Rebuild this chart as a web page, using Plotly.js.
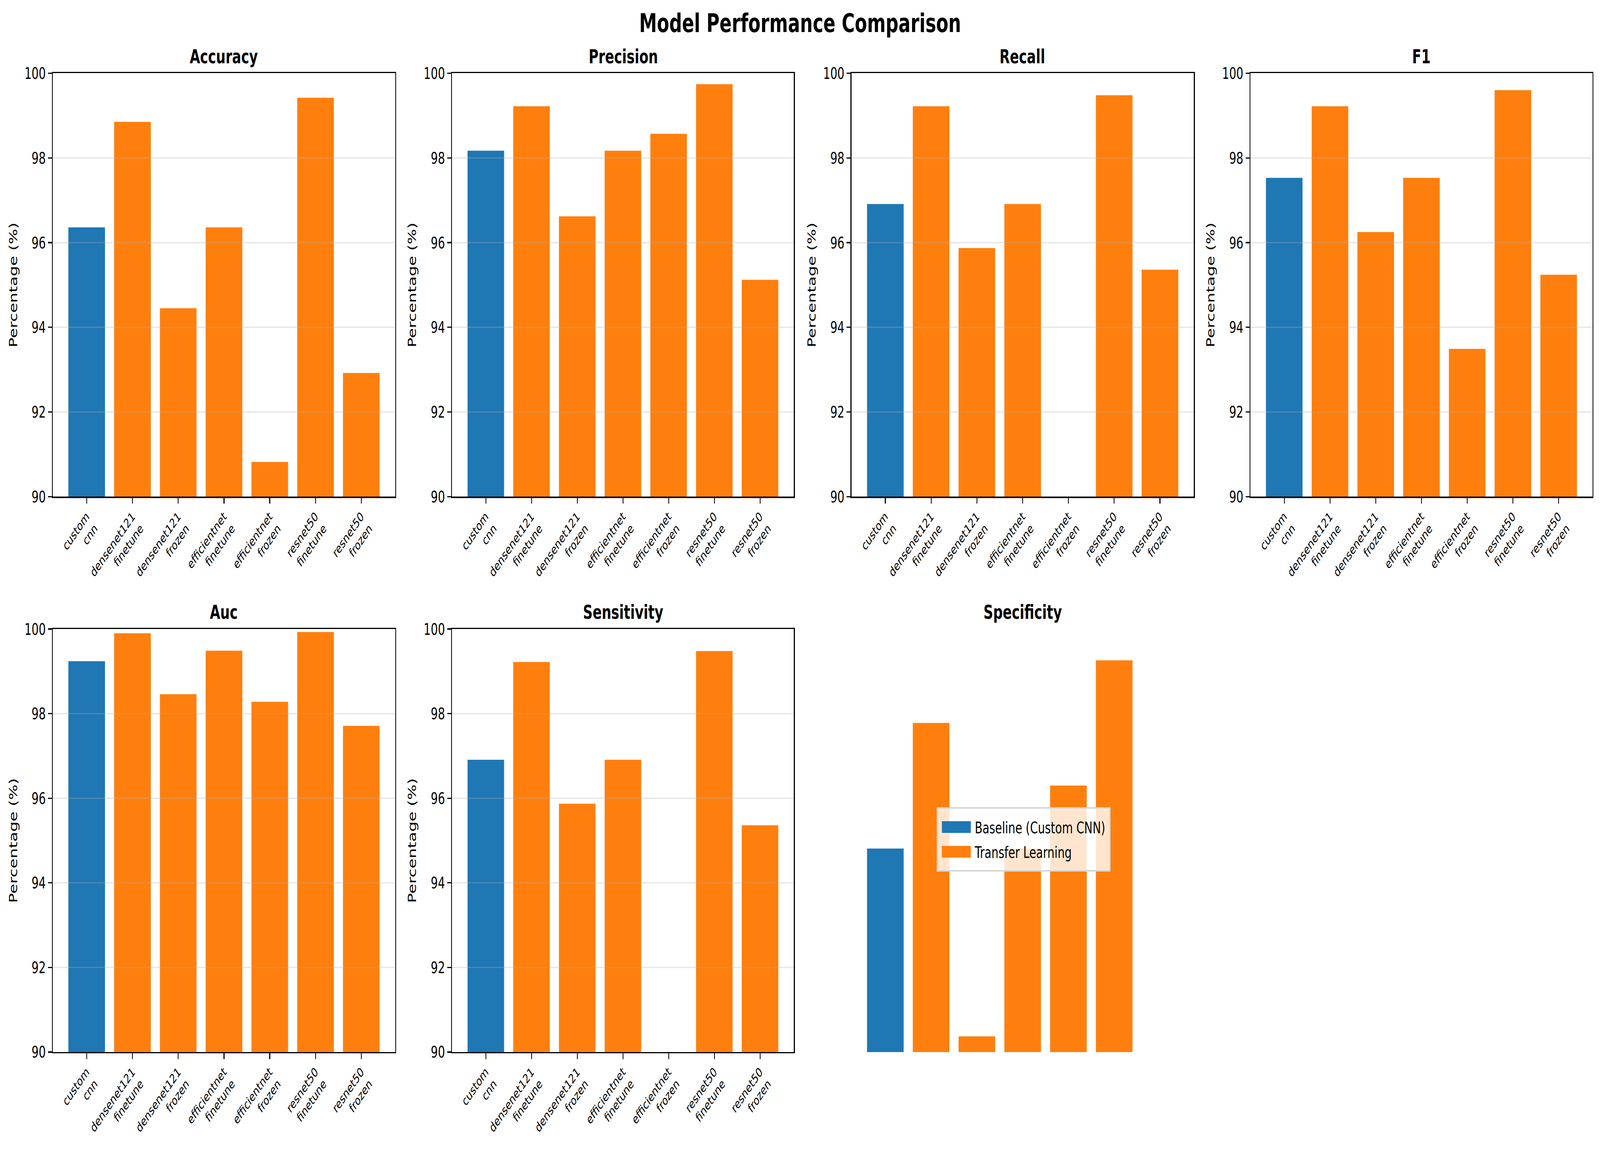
<!DOCTYPE html>
<html><head><meta charset="utf-8">
<script src="https://cdn.plot.ly/plotly-3.0.1.min.js"></script>
<style>
html,body{margin:0;padding:0;background:#fff;overflow:hidden;}
#wrap{position:absolute;left:0;top:0;transform-origin:0 0;}
</style></head>
<body><div id="wrap"><div id="chart"></div></div>
<script>
// ---------------- data ----------------
const models = ['custom<br>cnn', 'densenet121<br>finetune', 'densenet121<br>frozen',
  'efficientnet<br>finetune', 'efficientnet<br>frozen', 'resnet50<br>finetune', 'resnet50<br>frozen'];
const modelGroup = ['Baseline (Custom CNN)', 'Transfer Learning', 'Transfer Learning',
  'Transfer Learning', 'Transfer Learning', 'Transfer Learning', 'Transfer Learning'];
const metricTitles = ['Accuracy', 'Precision', 'Recall', 'F1', 'Auc', 'Sensitivity', 'Specificity'];
const accuracy    = [96.36, 98.85, 94.45, 96.36, 90.82, 99.42, 92.92];
const precision   = [98.17, 99.22, 96.62, 98.17, 98.57, 99.74, 95.12];
const recall      = [96.91, 99.22, 95.87, 96.91, 88.90, 99.48, 95.36];
const f1          = [97.53, 99.22, 96.25, 97.53, 93.49, 99.60, 95.24];
const auc         = [99.24, 99.90, 98.46, 99.49, 98.28, 99.93, 97.71];
const sensitivity = [96.91, 99.22, 95.87, 96.91, 88.90, 99.48, 95.36];
const specificity = [94.81, 97.78, 90.37, 94.81, 96.30, 99.26, 86.00];
const yTickVals = [90, 92, 94, 96, 98, 100];
const legendNames = ['Baseline (Custom CNN)', 'Transfer Learning'];

// ---------------- styling / layout ----------------
const groupColor = {'Baseline (Custom CNN)': '#1f77b4', 'Transfer Learning': '#ff7f0e'};
const FULL_W = 5969, FULL_H = 2959, K = 3;      // design at 1/3 of the target size, scaled to the window
const W = FULL_W / K, H = FULL_H / K;
const pt = v => v * 300 / 72 / K;              // matplotlib points -> design px
const FONT = 'DejaVu Sans';
const colPx = [[197, 1474], [1686, 2961], [3176, 4453], [4664, 5940]];
const rowPx = [[187.5, 1271.7], [1610.7, 2693.8]];
const seriesList = [accuracy, precision, recall, f1, auc, sensitivity, specificity];

const vw = document.documentElement.clientWidth || window.innerWidth || FULL_W;
const vh = document.documentElement.clientHeight || window.innerHeight || FULL_H;
const SX = vw / W, SY = vh / H;
const wrap = document.getElementById('wrap');
wrap.style.width = W + 'px'; wrap.style.height = H + 'px';
wrap.style.transform = 'scale(' + SX + ',' + SY + ')';

const data = [];
const layout = {
  width: W, height: H,
  margin: {l: 0, r: 0, t: 0, b: 0, pad: 0},
  paper_bgcolor: '#ffffff', plot_bgcolor: '#ffffff',
  font: {family: FONT, color: '#000000', size: pt(10)},
  showlegend: true, barmode: 'overlay', bargap: 0.2,
  title: {
    text: '<b>Model Performance Comparison</b>',
    font: {family: FONT, size: pt(16), color: '#000000'},
    x: 0.5, xanchor: 'center', xref: 'paper',
    y: 1 - 82 / FULL_H, yref: 'container', yanchor: 'bottom'
  },
  legend: {
    x: 3494 / FULL_W, y: 1 - 2067 / FULL_H, xanchor: 'left', yanchor: 'top',
    bgcolor: 'rgba(255,255,255,0.8)', bordercolor: '#d6d6d6', borderwidth: pt(1),
    font: {family: FONT, size: pt(10), color: '#000000'},
    itemwidth: 36, tracegroupgap: 0
  },
  annotations: [], shapes: []
};

seriesList.forEach((vals, i) => {
  const n = i + 1;
  const r = Math.floor(i / 4), c = i % 4;
  const xa = 'xaxis' + (n === 1 ? '' : n), ya = 'yaxis' + (n === 1 ? '' : n);
  const xr = 'x' + (n === 1 ? '' : n), yr = 'y' + (n === 1 ? '' : n);
  const visible = metricTitles[i] !== 'Specificity';
  const xd = [colPx[c][0] / FULL_W, colPx[c][1] / FULL_W];
  const yd = [1 - rowPx[r][1] / FULL_H, 1 - rowPx[r][0] / FULL_H];
  data.push({
    type: 'bar', x: models, y: vals, xaxis: xr, yaxis: yr,
    marker: {color: modelGroup.map(g => groupColor[g]), line: {width: 0}},
    showlegend: false, hoverinfo: 'skip'
  });
  layout[xa] = {
    domain: xd, anchor: yr, type: 'category', range: [-0.74, 6.74],
    visible: visible, showgrid: false, zeroline: false,
    showline: true, linecolor: '#000000', linewidth: pt(0.8), mirror: true,
    ticks: 'outside', ticklen: pt(3.5), tickwidth: pt(0.8), tickcolor: '#000000',
    tickangle: -45, tickfont: {family: FONT, size: pt(8), color: '#000000'},
    automargin: false, fixedrange: true
  };
  layout[ya] = {
    domain: yd, anchor: xr, range: [90, 100], tickvals: yTickVals,
    visible: visible, showgrid: false, zeroline: false,
    showline: true, linecolor: '#000000', linewidth: pt(0.8), mirror: true,
    ticks: 'outside', ticklen: pt(3.5), tickwidth: pt(0.8), tickcolor: '#000000',
    tickfont: {family: FONT, size: pt(10), color: '#000000'},
    title: {text: visible ? 'Percentage (%)' : '', font: {family: FONT, size: pt(10), color: '#000000'}, standoff: 5},
    automargin: false, fixedrange: true
  };
  layout.annotations.push({
    text: '<b>' + metricTitles[i] + '</b>', showarrow: false,
    xref: 'paper', yref: 'paper', x: (xd[0] + xd[1]) / 2, y: yd[1],
    xanchor: 'center', yanchor: 'bottom', yshift: 2.6,
    font: {family: FONT, size: pt(12), color: '#000000'}
  });
  if (visible) {
    yTickVals.filter(v => v > 90 && v < 100).forEach(v => {
      layout.shapes.push({
        type: 'line', layer: 'above', xref: xr + ' domain', yref: yr,
        x0: 0, x1: 1, y0: v, y1: v,
        line: {color: 'rgba(176,176,176,0.3)', width: pt(0.8)}
      });
    });
  }
});

// legend entries (legend-only, no data points)
legendNames.forEach(name => {
  data.push({
    type: 'scatter', mode: 'lines', x: [null], y: [null], xaxis: 'x7', yaxis: 'y7',
    name: name, line: {color: groupColor[name], width: 10}, showlegend: true, hoverinfo: 'skip'
  });
});

Plotly.newPlot('chart', data, layout, {staticPlot: true, displayModeBar: false});
</script>
</body></html>
